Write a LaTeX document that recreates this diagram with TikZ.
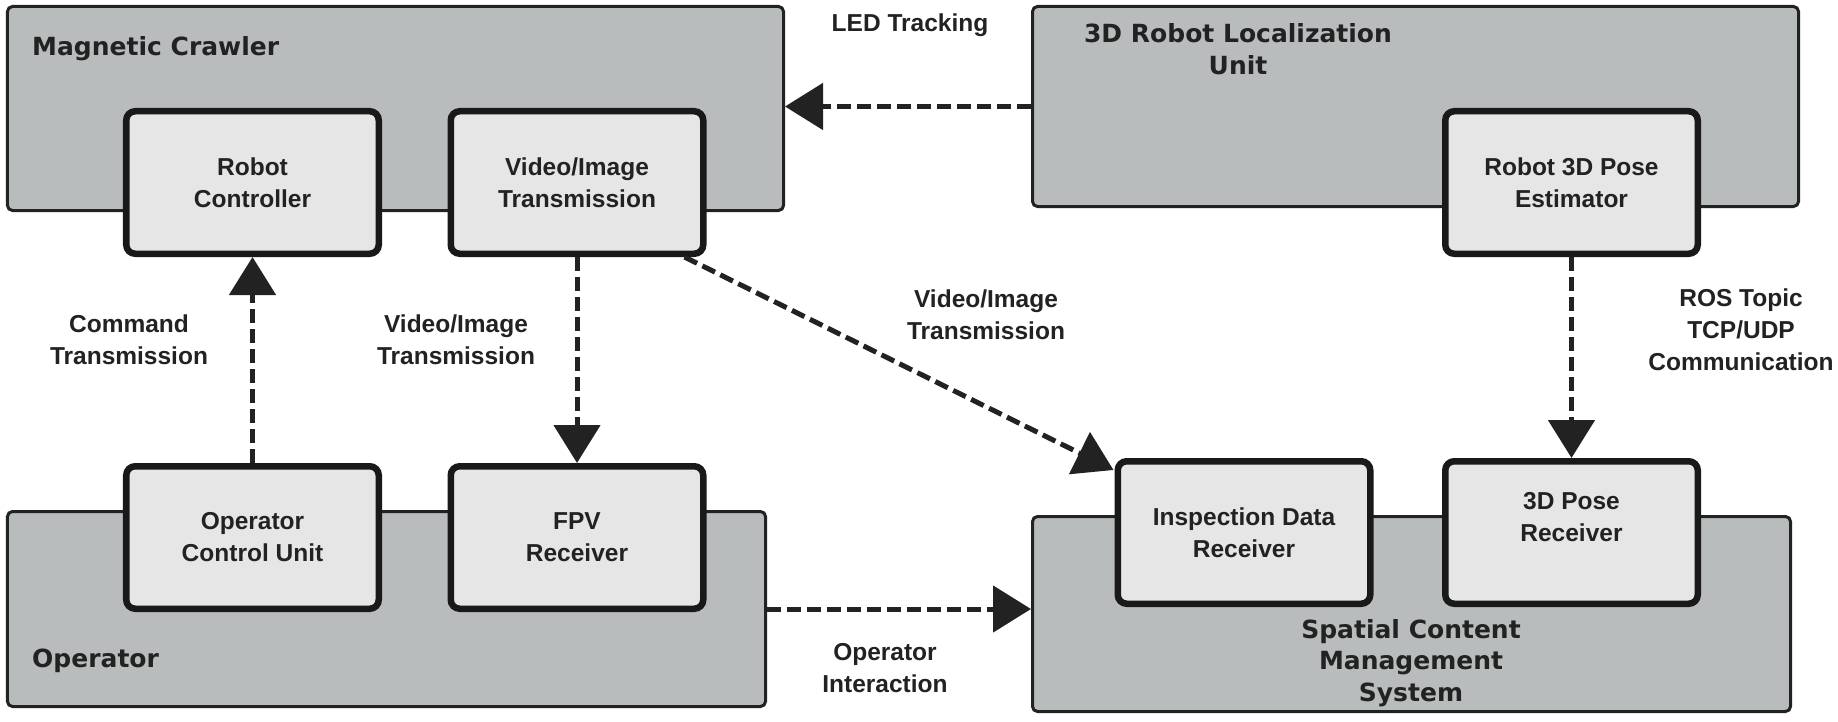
\documentclass[tikz,border=0pt]{standalone}
\usepackage{fontspec}
\setmainfont{Liberation Sans}
\newfontfamily\titlefont{DejaVu Sans}
\usetikzlibrary{arrows.meta}
\definecolor{outerfill}{RGB}{185,188,189}
\definecolor{innerfill}{RGB}{230,230,230}
\definecolor{ink}{RGB}{34,34,34}
\begin{document}
\begin{tikzpicture}[x=1bp,y=-1bp,
  outerbox/.style={draw=ink, line width=3bp, fill=outerfill, rounded corners=5bp, inner sep=0pt},
  innerbox/.style={draw=black!90, line width=6.5bp, fill=innerfill, rounded corners=9bp,
    minimum width=252.5bp, minimum height=142.5bp, inner sep=0pt, align=center,
    font=\fontsize{24.5bp}{32bp}\selectfont\bfseries, text=ink},
  title/.style={font=\titlefont\fontsize{25bp}{31.5bp}\selectfont\bfseries, text=ink, inner sep=0pt, align=center},
  lbl/.style={font=\fontsize{24.5bp}{32bp}\selectfont\bfseries, text=ink, align=center, inner sep=0pt},
  conn/.style={draw=ink, line width=5bp, dash pattern=on 14bp off 6bp, -{Triangle[length=38bp,width=46bp]}},
]
\useasboundingbox (0,0) rectangle (1838,722);
% outer boxes
\node[outerbox, minimum width=776bp, minimum height=204bp] (mc) at (395.5,108.5) {};
\node[outerbox, minimum width=766bp, minimum height=200bp] (rlu) at (1415.5,106.5) {};
\node[outerbox, minimum width=758bp, minimum height=195bp] (op) at (386.5,609) {};
\node[outerbox, minimum width=758bp, minimum height=195bp] (scms) at (1411.5,614) {};
% titles
\node[title, anchor=base west] (mct) at (32,56) {Magnetic Crawler};
\node[title] (rlut) at (1238,49) {3D Robot Localization\\Unit};
\node[title, anchor=base west] (opt) at (32,667) {Operator};
\node[title] (scmst) at (1411,663) {Spatial Content\\Management\\System};
% inner boxes
\node[innerbox] (rc) at (252.5,182.5) {Robot\\Controller};
\node[innerbox] (vit) at (577,182.5) {Video/Image\\Transmission};
\node[innerbox] (pe) at (1571.5,182.5) {Robot 3D Pose\\Estimator};
\node[innerbox] (ocu) at (252.5,537.5) {Operator\\Control Unit};
\node[innerbox] (fpv) at (577,537.5) {FPV\\Receiver};
\node[innerbox] (idr) at (1244,532.5) {Inspection Data\\Receiver};
\node[innerbox] (pr) at (1571.5,532.5) {};
\node[lbl] (prt) at (1571.5,517) {3D Pose\\Receiver};
% connector labels
\node[lbl, anchor=base] (ledl) at (910,32) {LED Tracking};
\node[lbl] (cmdl) at (129,340) {Command\\Transmission};
\node[lbl] (vidl1) at (456,340) {Video/Image\\Transmission};
\node[lbl] (vidl2) at (986,315) {Video/Image\\Transmission};
\node[lbl] (rosl) at (1741,330) {ROS Topic\\TCP/UDP\\Communication};
\node[lbl] (opil) at (885,668) {Operator\\Interaction};
% connectors
\draw[conn] (rlu.west) -- (mc.east |- rlu.west);
\draw[conn] (ocu.north) -- (rc.south);
\draw[conn] (vit.south) -- (fpv.north);
\draw[conn] ([xshift=-22bp]vit.south east) -- ([xshift=-1bp,yshift=-12bp]idr.north west);
\draw[conn] (pe.south) -- (pr.north);
\draw[conn] (op.east) -- (scms.west |- op.east);
\end{tikzpicture}
\end{document}
